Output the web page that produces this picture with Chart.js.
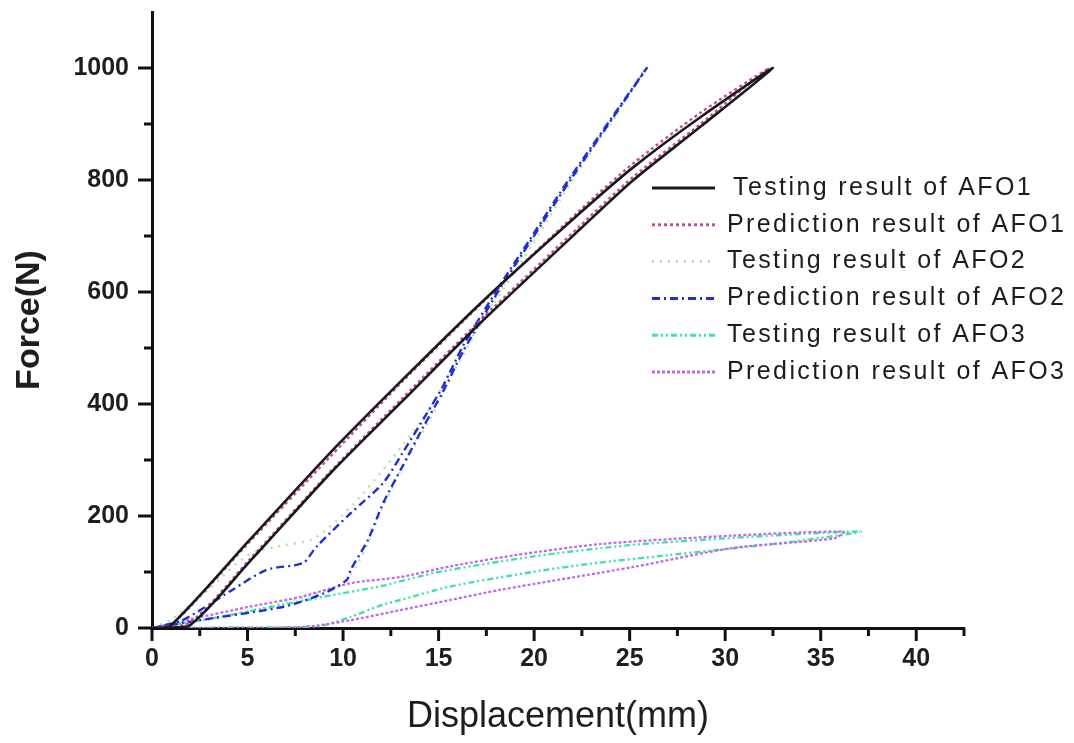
<!DOCTYPE html>
<html>
<head>
<meta charset="utf-8">
<script src="https://cdn.jsdelivr.net/npm/chart.js@4.4.1/dist/chart.umd.min.js"></script>
<style>
  html, body { margin: 0; padding: 0; background: #ffffff; }
  #wrap { width: 1074px; height: 743px; position: relative; }
</style>
</head>
<body>
<div id="wrap"><canvas id="c"></canvas></div>
<script>
// ---- Data ----
const seriesLabels = [
  'Testing result of AFO1',
  'Prediction result of AFO1',
  'Testing result of AFO2',
  'Prediction result of AFO2',
  'Testing result of AFO3',
  'Prediction result of AFO3'
];

// AFO1 testing (loading branch then unloading branch)
const afo1TestX = [0, 1.9, 5.1, 9.3, 13.1, 17.2, 22.4, 25.2, 28.7, 32.5, 28.7, 25.2, 22.4, 17.2, 13.1, 9.3, 5.1, 0.9, 0];
const afo1TestY = [0, 3, 118, 275, 405, 545, 712, 800, 895, 1000, 912, 823, 741, 580, 443, 312, 157, 2, 0];

// AFO1 prediction
const afo1PredX = [0, 1.0, 5.0, 9.3, 13.1, 17.2, 22.4, 25.2, 28.7, 32.3, 31.0, 28.7, 25.2, 22.4, 17.2, 13.1, 9.3, 5.1, 2.0, 0];
const afo1PredY = [0, 5, 150, 305, 440, 578, 746, 830, 920, 1000, 965, 900, 806, 718, 550, 410, 278, 122, 10, 0];

// AFO2 testing
const afo2TestX = [0, 2.0, 5.0, 8.0, 10.0, 11.0, 12.0, 13.0, 14.5, 16.0, 18.0, 20.0, 22.0, 24.0, 25.8, 24.5, 22.0, 20.0, 18.0, 16.0, 14.5, 12.5, 10.5, 8.5, 6.5, 5.0, 3.0, 1.0, 0];
const afo2TestY = [0, 10, 30, 55, 80, 130, 210, 280, 370, 470, 590, 700, 810, 900, 1000, 930, 800, 690, 585, 480, 390, 300, 220, 160, 145, 130, 70, 15, 0];

// AFO2 prediction
const afo2PredX = [0, 2.5, 6.9, 9.0, 10.2, 10.4, 11.3, 12.1, 13.1, 14.2, 15.2, 16.3, 18.1, 19.8, 21.9, 25.9, 21.9, 19.8, 18.1, 16.3, 15.2, 14.4, 13.1, 12.1, 10.4, 8.6, 7.9, 6.0, 4.2, 1.6, 0];
const afo2PredY = [0, 14, 38, 62, 86, 104, 157, 223, 288, 359, 420, 495, 600, 690, 800, 1000, 805, 695, 606, 505, 430, 384, 312, 259, 205, 145, 116, 104, 68, 14, 0];

// AFO3 testing
const afo3TestX = [0, 4.0, 8.7, 10.4, 12.1, 13.0, 15.6, 19.9, 23.0, 27.0, 33.0, 37.1, 34.0, 30.0, 25.0, 20.0, 15.0, 12.0, 9.0, 6.0, 3.0, 0];
const afo3TestY = [0, 1, 3, 20, 42, 50, 74, 100, 115, 130, 152, 172, 168, 160, 148, 128, 100, 75, 56, 36, 16, 0];

// AFO3 prediction
const afo3PredX = [0, 1.8, 5.1, 7.7, 10.4, 13.0, 15.6, 19.0, 23.5, 30.4, 36.2, 35.7, 30.4, 25.2, 18.2, 15.6, 13.0, 10.4, 8.0, 4.0, 0];
const afo3PredY = [0, 14, 38, 55, 80, 91, 110, 130, 150, 165, 172, 160, 143, 109, 68, 50, 32, 14, 2, 0, 0];

const xTickLabels = ['0', '5', '10', '15', '20', '25', '30', '35', '40'];
const yTickLabels = ['0', '200', '400', '600', '800', '1000'];

function pts(xs, ys) { return xs.map((x, i) => ({ x: x, y: ys[i] })); }

const styles = [
  { color: '#1a1a1a', dash: [], width: 2.6 },
  { color: '#c24f9b', dash: [3, 3], width: 2.4 },
  { color: '#b2e4a4', dash: [2, 6], width: 2.4 },
  { color: '#1f2fd0', dash: [8, 4, 2, 4], width: 2.4 },
  { color: '#3ee3a6', dash: [6, 3, 2, 3, 2, 3], width: 2.4 },
  { color: '#c467e6', dash: [3, 2], width: 2.2 }
];
const seriesData = [
  pts(afo1TestX, afo1TestY),
  pts(afo1PredX, afo1PredY),
  pts(afo2TestX, afo2TestY),
  pts(afo2PredX, afo2PredY),
  pts(afo3TestX, afo3TestY),
  pts(afo3PredX, afo3PredY)
];

const datasets = seriesLabels.map((lab, i) => ({
  label: lab,
  data: seriesData[i],
  showLine: true,
  borderColor: styles[i].color,
  backgroundColor: styles[i].color,
  borderDash: styles[i].dash,
  borderWidth: styles[i].width,
  pointRadius: 0,
  tension: 0.25,
  fill: false
}));
// draw order: light ones first, black on top
datasets.forEach((d, i) => { d.order = [0, 1, 5, 2, 4, 3][i]; });

// ---- custom tick marks (major / minor) ----
const tickMarks = {
  id: 'tickMarks',
  afterDraw(chart) {
    const ctx = chart.ctx;
    const xs = chart.scales.x, ys = chart.scales.y;
    const area = chart.chartArea;
    ctx.save();
    ctx.strokeStyle = '#111';
    ctx.lineWidth = 3;
    xs.ticks.forEach(t => {
      const px = xs.getPixelForValue(t.value);
      const major = Math.abs(t.value % 5) < 1e-9;
      ctx.beginPath();
      ctx.moveTo(px, area.bottom);
      ctx.lineTo(px, area.bottom + (major ? 13 : 8));
      ctx.stroke();
    });
    ys.ticks.forEach(t => {
      if (t.value >= ys.max) return;
      const py = ys.getPixelForValue(t.value);
      const major = Math.abs(t.value % 200) < 1e-9;
      ctx.beginPath();
      ctx.moveTo(area.left, py);
      ctx.lineTo(area.left - (major ? 14 : 8), py);
      ctx.stroke();
    });
    ctx.restore();
  }
};

// ---- legend drawn inside the plot from dataset styles ----
const innerLegend = {
  id: 'innerLegend',
  afterDraw(chart) {
    const ctx = chart.ctx;
    const x0 = 652, x1 = 715, tx = 727, y0 = 188, dy = 36.8;
    ctx.save();
    ctx.font = '25px "Liberation Sans", Arial, sans-serif';
    try { ctx.letterSpacing = '2.4px'; } catch (e) {}
    ctx.textBaseline = 'middle';
    ctx.textAlign = 'left';
    chart.data.datasets.forEach((d, i) => {
      const y = y0 + i * dy;
      ctx.strokeStyle = d.borderColor;
      ctx.lineWidth = 3;
      ctx.setLineDash(d.borderDash || []);
      ctx.beginPath();
      ctx.moveTo(x0, y);
      ctx.lineTo(x1, y);
      ctx.stroke();
      ctx.setLineDash([]);
      ctx.fillStyle = '#1c1c1c';
      ctx.fillText(d.label, i === 0 ? tx + 6 : tx, y);
    });
    ctx.restore();
  }
};

const tickFont = { family: '"Liberation Sans", Arial, sans-serif', size: 25, weight: 'bold' };

new Chart(document.getElementById('c'), {
  type: 'scatter',
  data: { datasets: datasets },
  options: {
    responsive: true,
    maintainAspectRatio: false,
    animation: false,
    layout: { padding: { top: 12, right: 110, left: 0, bottom: 0 } },
    plugins: {
      legend: { display: false },
      tooltip: { enabled: false }
    },
    scales: {
      x: {
        type: 'linear',
        min: 0,
        max: 42.5,
        border: { display: true, color: '#111', width: 3 },
        grid: { display: true, drawOnChartArea: false, drawTicks: true, tickLength: 14, color: 'rgba(0,0,0,0)' },
        ticks: {
          stepSize: 2.5,
          autoSkip: false,
          maxRotation: 0,
          padding: 2,
          color: '#1e1e1e',
          font: tickFont,
          callback: (v) => {
            const idx = Math.round(v / 5);
            return Math.abs(v - idx * 5) < 1e-9 && idx < xTickLabels.length ? xTickLabels[idx] : '';
          }
        },
        title: {
          display: true,
          text: 'Displacement(mm)',
          color: '#1e1e1e',
          font: { family: '"Liberation Sans", Arial, sans-serif', size: 36 },
          padding: { top: 0, bottom: 4 }
        },
        afterFit: (s) => { s.height = 115; s.paddingLeft = 0; s.paddingRight = 0; }
      },
      y: {
        type: 'linear',
        min: 0,
        max: 1100,
        border: { display: true, color: '#111', width: 3 },
        grid: { display: true, drawOnChartArea: false, drawTicks: true, tickLength: 14, color: 'rgba(0,0,0,0)' },
        ticks: {
          stepSize: 100,
          autoSkip: false,
          padding: 9,
          color: '#1e1e1e',
          font: tickFont,
          callback: (v) => {
            const idx = Math.round(v / 200);
            return Math.abs(v - idx * 200) < 1e-9 && idx < yTickLabels.length ? yTickLabels[idx] : '';
          }
        },
        title: {
          display: true,
          text: 'Force(N)',
          color: '#1e1e1e',
          font: { family: '"Liberation Sans", Arial, sans-serif', size: 34, weight: 'bold' },
          padding: { top: 9, bottom: 0 }
        },
        afterFit: (s) => { s.width = 152; s.paddingTop = 0; s.paddingBottom = 0; }
      }
    }
  },
  plugins: [tickMarks, innerLegend]
});
</script>
</body>
</html>
